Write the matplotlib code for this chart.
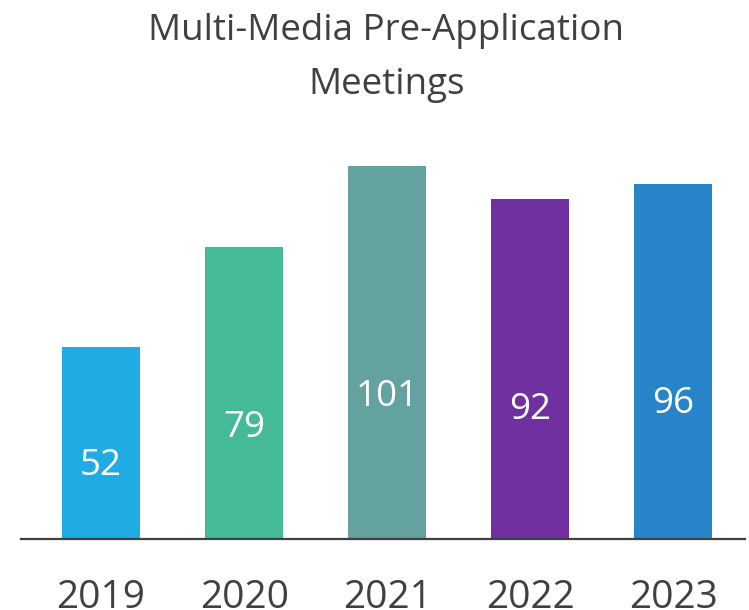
import matplotlib.pyplot as plt

plt.rcParams['font.family'] = ['Open Sans', 'DejaVu Sans']

years = ['2019', '2020', '2021', '2022', '2023']
meetings = [52, 79, 101, 92, 96]
colors = ['#1FACE3', '#44BA96', '#63A29E', '#7030A0', '#2784C8']

fig = plt.figure(figsize=(7.49, 6.10), dpi=100)
ax = fig.add_axes([0.028, 0.1164, 0.9666, 0.6115])

x = range(len(years))
ax.bar(x, meetings, width=0.545, color=colors, zorder=2)

# value labels sit a bit under mid-height of each bar
for i, v in enumerate(meetings):
    ax.text(i, v * 0.38, str(v), ha='center', va='center',
            color='white', fontsize=26.5)

ax.set_xlim(-0.56, 4.50)
ax.set_ylim(0, 101)
ax.set_xticks(list(x))
ax.set_xticklabels(years, fontsize=28, color='#404040')
ax.tick_params(axis='x', length=0, pad=29)
ax.set_yticks([])
for side in ['top', 'left', 'right']:
    ax.spines[side].set_visible(False)
ax.spines['bottom'].set_color('#404040')
ax.spines['bottom'].set_linewidth(1.6)
ax.spines['bottom'].set_zorder(3)

fig.text(0.516, 0.978, 'Multi-Media Pre-Application\nMeetings', ha='center',
         va='top', fontsize=26.5, color='#404040', linespacing=1.65)

fig.savefig('out.png', dpi=100)
